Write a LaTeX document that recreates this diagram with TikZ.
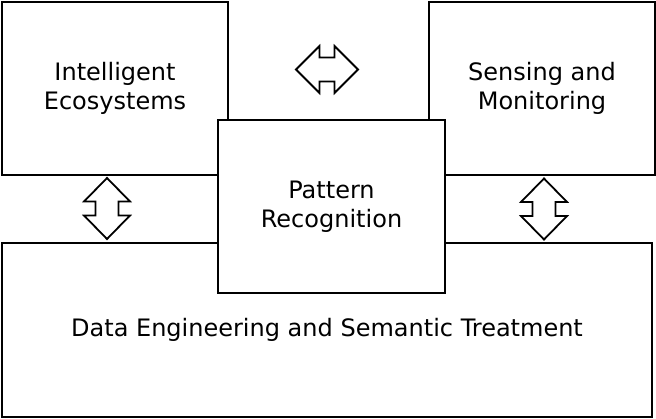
\documentclass[tikz,border=0pt]{standalone}
\usepackage{fontspec}
\setmainfont{DejaVu Sans}
\begin{document}
\begin{tikzpicture}[x=1pt, y=-1pt,
    box/.style={draw, line width=1.8pt, fill=white, align=center,
      inner sep=0pt, font=\fontsize{24}{29}\selectfont},
    bidir/.style={draw, line width=1.8pt, line join=miter, fill=white}]

    \useasboundingbox (0,0) rectangle (656,418);

    \coordinate (IC) at (115, 88.5);
    \coordinate (SC) at (542, 88.5);
    \coordinate (DC) at (327, 330);
    \coordinate (PC) at (331.5, 206.5);

    \coordinate (ISA) at (327, 69.5);
    \coordinate (IDA) at (107, 208.5);
    \coordinate (SDA) at (544, 209);

    \node[box, minimum width=226pt, minimum height=173pt] (intel) at (IC)
    {Intelligent\\Ecosystems};
    \node[box, minimum width=226pt, minimum height=173pt] (sensing) at (SC)
    {Sensing and\\Monitoring};
    \node[box, minimum width=650pt, minimum height=174pt] (data) at (DC)
    {Data Engineering and Semantic Treatment};
    \node[box, minimum width=227pt, minimum height=173pt] (pattern) at (PC)
    {Pattern\\Recognition};

    \draw[bidir, shift={(ISA)}] (-31,0) -- (-7.5,-23.5) -- (-7.5,-12) -- (7.5,-12)
    -- (7.5,-23.5) -- (31,0) -- (7.5,23.5) -- (7.5,12) -- (-7.5,12)
    -- (-7.5,23.5) -- cycle;
    \draw[bidir, shift={(IDA)}] (0,-30.5) -- (23,-7) -- (11.5,-7) -- (11.5,7)
    -- (23,7) -- (0,30.5) -- (-23,7) -- (-11.5,7) -- (-11.5,-7)
    -- (-23,-7) -- cycle;
    \draw[bidir, shift={(SDA)}] (0,-30.5) -- (23,-7) -- (11.5,-7) -- (11.5,7)
    -- (23,7) -- (0,30.5) -- (-23,7) -- (-11.5,7) -- (-11.5,-7)
    -- (-23,-7) -- cycle;

  \end{tikzpicture}
\end{document}
